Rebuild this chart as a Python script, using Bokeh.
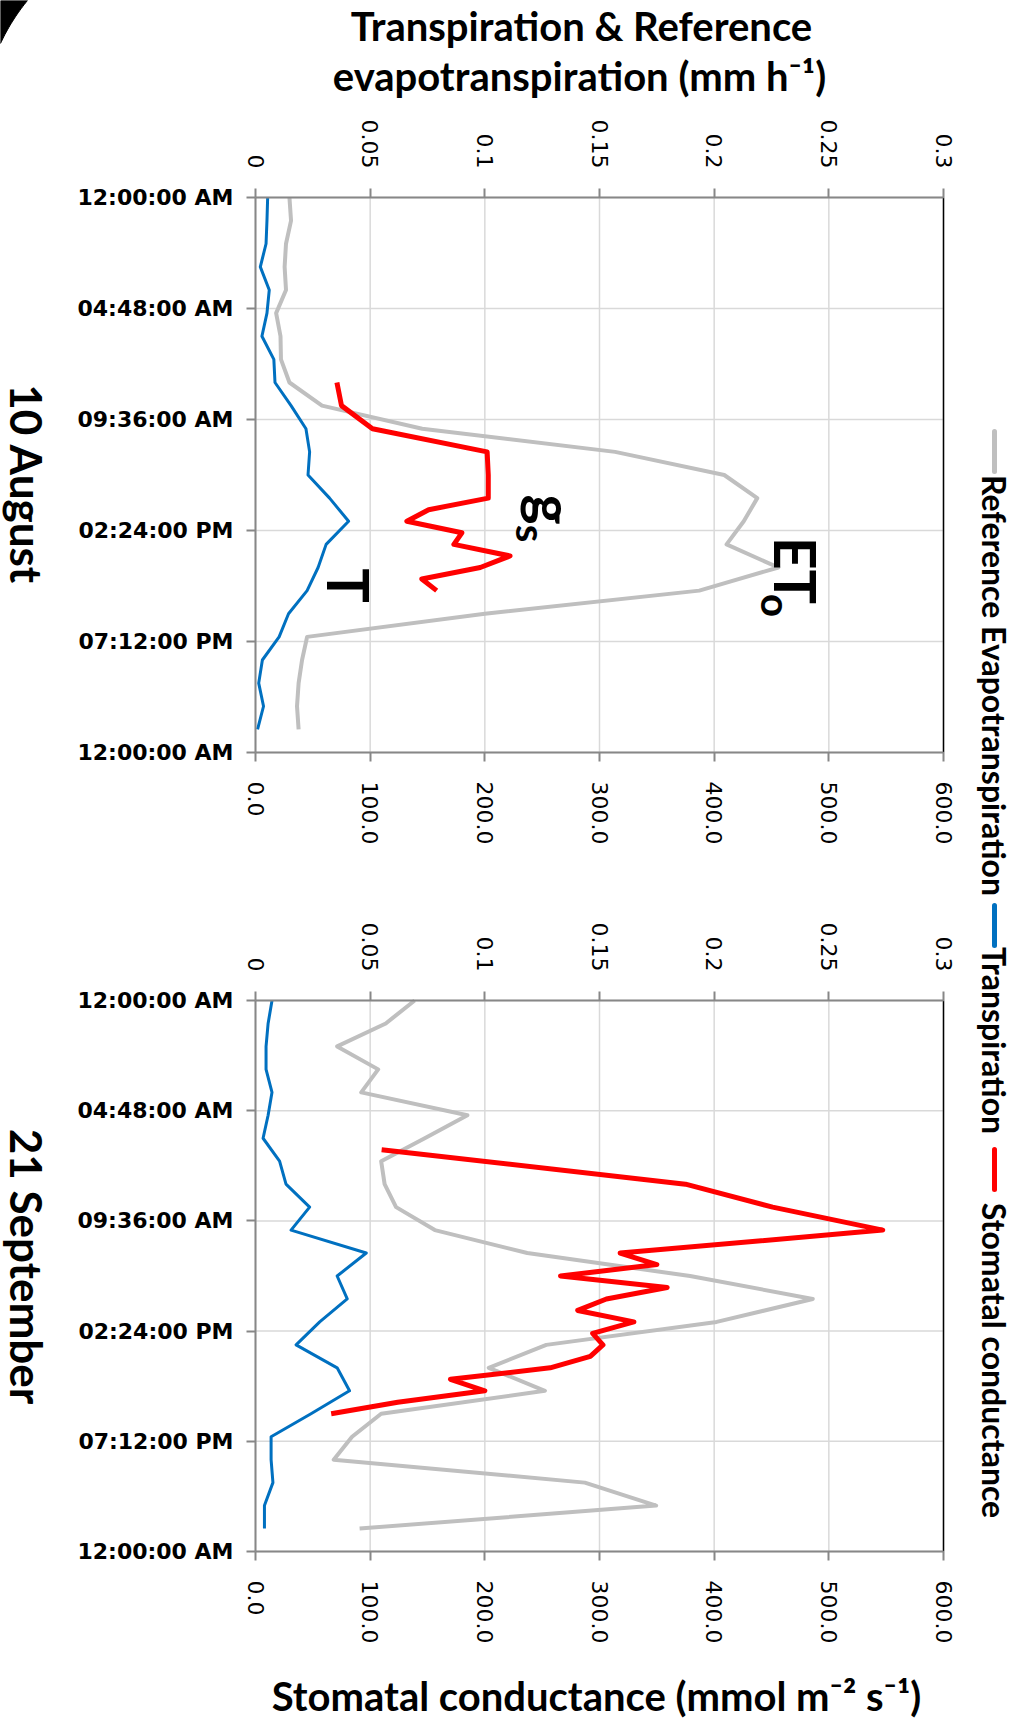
import math
from bokeh.plotting import figure
from bokeh.models import Range1d, LinearAxis, FixedTicker, Label
from bokeh.embed import file_html
from bokeh.resources import INLINE

# ---------------- data ----------------
hours = list(range(24))

aug_T = [0.0053, 0.0050, 0.0046, 0.0021, 0.0060, 0.0050, 0.0028, 0.0080, 0.0085, 0.0155,
         0.0220, 0.0236, 0.0229, 0.0323, 0.0406, 0.0308, 0.0273, 0.0225, 0.0144, 0.0103,
         0.0030, 0.0014, 0.0035, 0.0009]
aug_ETo = [0.0148, 0.0155, 0.0133, 0.0127, 0.0133, 0.0090, 0.0109, 0.0111, 0.0148, 0.0290,
           0.0727, 0.1568, 0.2044, 0.2188, 0.2129, 0.2054, 0.2280, 0.1935, 0.1000, 0.0225,
           0.0203, 0.0188, 0.0181, 0.0188]
aug_gs_hours = [8, 9, 10, 11, 12, 13, 13.5, 14, 14.5, 15, 15.5, 16, 16.5, 17]
aug_gs = [71, 75, 102, 202, 203, 203, 151, 132, 180, 173, 222, 196, 145, 158]

sep_T = [0.0072, 0.0055, 0.0046, 0.0046, 0.0072, 0.0055, 0.0033, 0.0105, 0.0133, 0.0236,
         0.0155, 0.0483, 0.0356, 0.0400, 0.0280, 0.0177, 0.0356, 0.0410, 0.0242, 0.0068,
         0.0068, 0.0076, 0.0039, 0.0039]
sep_ETo = [0.0694, 0.0568, 0.0356, 0.0535, 0.0461, 0.0924, 0.0738, 0.0548, 0.0563, 0.0613,
           0.0782, 0.1185, 0.1895, 0.2430, 0.2011, 0.1268, 0.1017, 0.1262, 0.0548, 0.0421,
           0.0341, 0.1436, 0.1747, 0.0454]
sep_gs_hours = [6.5, 8, 9, 10, 11, 11.5, 12, 12.5, 13, 13.5, 14, 14.5, 15, 15.5, 16, 16.5, 17, 17.5, 18]
sep_gs = [110, 375, 451, 547, 318, 350, 266, 359, 306, 281, 330, 294, 303, 292, 257, 170, 200, 124, 66]

time_ticks = [0, 4.8, 9.6, 14.4, 19.2, 24]
time_labels = ["12:00:00 AM", "04:48:00 AM", "09:36:00 AM", "02:24:00 PM", "07:12:00 PM", "12:00:00 AM"]
gs_ticks = [0, 100, 200, 300, 400, 500, 600]
gs_labels = ["0.0", "100.0", "200.0", "300.0", "400.0", "500.0", "600.0"]
et_ticks = [0, 0.05, 0.1, 0.15, 0.2, 0.25, 0.3]
et_labels = ["0", "0.05", "0.1", "0.15", "0.2", "0.25", "0.3"]

day_labels = ["10 August", "21 September"]
legend_names = ["Reference Evapotranspiration", "Transpiration", "Stomatal conductance"]
top_title = ["Transpiration & Reference", "evapotranspiration (mm h⁻¹)"]
bottom_title = "Stomatal conductance (mmol m⁻² s⁻¹)"

C_ETO = "#bfbfbf"
C_T = "#0070c0"
C_GS = "#ff0000"
AX = "#878787"
GRID = "#d9d9d9"
TFONT = "Lato"
ROT = -math.pi / 2

# ---------------- layout (page pixels) ----------------
W, H = 1016, 1722
FRAME_L, FRAME_R = 255, 943                  # plot area, both panels
PANELS = {"top": (197, 752), "bot": (1000, 1551)}   # plot area top/bottom per panel
GS_MAX, ET_MAX, T_MAX = 600, 0.3, 24


def px_to_gs(px):
    return (px - FRAME_L) / (FRAME_R - FRAME_L) * GS_MAX


def py_to_h(py, name="top"):
    t, b = PANELS[name]
    return (py - t) / (b - t) * T_MAX


def yrange(name):
    # flipped range: 0 h at the top of the panel, 24 h at the bottom
    return Range1d(start=py_to_h(H, name), end=py_to_h(0, name))


p = figure(width=W, height=H,
           x_range=Range1d(px_to_gs(0), px_to_gs(W)), y_range=yrange("top"),
           x_axis_type=None, y_axis_type=None,
           output_backend="svg", toolbar_location=None, min_border=0)
p.outline_line_color = None
p.background_fill_color = "white"
p.border_fill_color = "white"
p.extra_y_ranges = {"bot": yrange("bot")}
p.extra_x_ranges = {"et": Range1d(px_to_gs(0) / GS_MAX * ET_MAX, px_to_gs(W) / GS_MAX * ET_MAX)}


def style_axis(ax, size="22px", style="normal", orient="horizontal", standoff=20):
    ax.axis_line_color = AX
    ax.axis_line_width = 2
    ax.major_tick_line_color = AX
    ax.major_tick_line_width = 2
    ax.major_tick_out = 9
    ax.major_tick_in = 0
    ax.minor_tick_out = 0
    ax.minor_tick_in = 0
    ax.major_label_text_font = "DejaVu Sans"
    ax.major_label_text_font_size = size
    ax.major_label_text_font_style = style
    ax.major_label_text_color = "black"
    ax.major_label_orientation = orient
    ax.major_label_standoff = standoff


def panel(name, T, ETo, gs_h, gs):
    yr = "default" if name == "top" else name
    # grid
    p.segment(x0=gs_ticks, y0=[0] * len(gs_ticks), x1=gs_ticks, y1=[T_MAX] * len(gs_ticks),
              y_range_name=yr, line_color=GRID, line_width=1.5)
    p.segment(x0=[0] * len(time_ticks), y0=time_ticks, x1=[GS_MAX] * len(time_ticks), y1=time_ticks,
              y_range_name=yr, line_color=GRID, line_width=1.5)
    # right border of the plot area
    p.segment(x0=[GS_MAX], y0=[0], x1=[GS_MAX], y1=[T_MAX], y_range_name=yr,
              line_color="black", line_width=1.5)

    # series
    p.line(x=ETo, y=hours, x_range_name="et", y_range_name=yr,
           line_color=C_ETO, line_width=4, line_join="round")
    p.line(x=T, y=hours, x_range_name="et", y_range_name=yr,
           line_color=C_T, line_width=3, line_join="round")
    p.line(x=gs, y=gs_h, y_range_name=yr,
           line_color=C_GS, line_width=5, line_join="round")

    # axes
    ya = LinearAxis(y_range_name=yr, ticker=FixedTicker(ticks=time_ticks),
                    major_label_overrides=dict(zip(time_ticks, time_labels)),
                    fixed_location=0, bounds=(0, T_MAX))
    style_axis(ya, style="bold", standoff=13)
    p.add_layout(ya, "left")

    xb = LinearAxis(y_range_name=yr, ticker=FixedTicker(ticks=gs_ticks),
                    major_label_overrides=dict(zip(gs_ticks, gs_labels)),
                    fixed_location=T_MAX, bounds=(0, GS_MAX))
    style_axis(xb, orient=ROT)
    p.add_layout(xb, "below")

    xt = LinearAxis(x_range_name="et", y_range_name=yr, ticker=FixedTicker(ticks=et_ticks),
                    major_label_overrides=dict(zip(et_ticks, et_labels)),
                    fixed_location=0, bounds=(0, ET_MAX))
    style_axis(xt, orient=ROT)
    p.add_layout(xt, "above")


panel("top", aug_T, aug_ETo, aug_gs_hours, aug_gs)
panel("bot", sep_T, sep_ETo, sep_gs_hours, sep_gs)


def text(px, py, s, size, angle=0.0):
    p.add_layout(Label(x=px_to_gs(px), y=py_to_h(py), text=s, angle=angle,
                       text_align="center", text_baseline="middle",
                       text_font=TFONT, text_font_style="bold",
                       text_font_size=f"{size}px", text_color="black"))


# titles
text(581, 25, top_title[0], 40)
text(579, 75, top_title[1], 40)
text(596, 1695, bottom_title, 40)

# day labels
text(26, 484, day_labels[0], 44, ROT)
text(26, 1266, day_labels[1], 44, ROT)

# curve annotations (top panel)
text(795, 570, "ET", 57, ROT)
text(775, 605, "o", 40, ROT)
text(552, 509, "g", 57, ROT)
text(530, 533, "s", 40, ROT)
text(348, 585, "T", 57, ROT)

# legend, running down the right edge
LEG_X = 994
leg_samples = [(431, 471, C_ETO), (905, 945, C_T), (1149, 1189, C_GS)]
leg_text_centers = [685, 1040, 1360]
for (y0, y1, c) in leg_samples:
    p.segment(x0=[px_to_gs(LEG_X)], y0=[py_to_h(y0)], x1=[px_to_gs(LEG_X)], y1=[py_to_h(y1)],
              line_color=c, line_width=5, line_cap="round")
for name, yc in zip(legend_names, leg_text_centers):
    text(LEG_X, yc, name, 32, ROT)

# dark corner at the top-left of the picture
R, CX, CY = 200.0, 181.5, 127.0
a0 = math.atan2(0 - CY, 27 - CX)
a1 = math.atan2(43 - CY, 0 - CX)
arc = [(CX + R * math.cos(a0 + (a1 - a0) * k / 20), CY + R * math.sin(a0 + (a1 - a0) * k / 20))
       for k in range(21)]
corner = [(0, 0)] + arc
p.patch(x=[px_to_gs(a) for a, b in corner], y=[py_to_h(b) for a, b in corner],
        fill_color="black", line_color="black")

open("out.html", "w").write(file_html(p, INLINE))
